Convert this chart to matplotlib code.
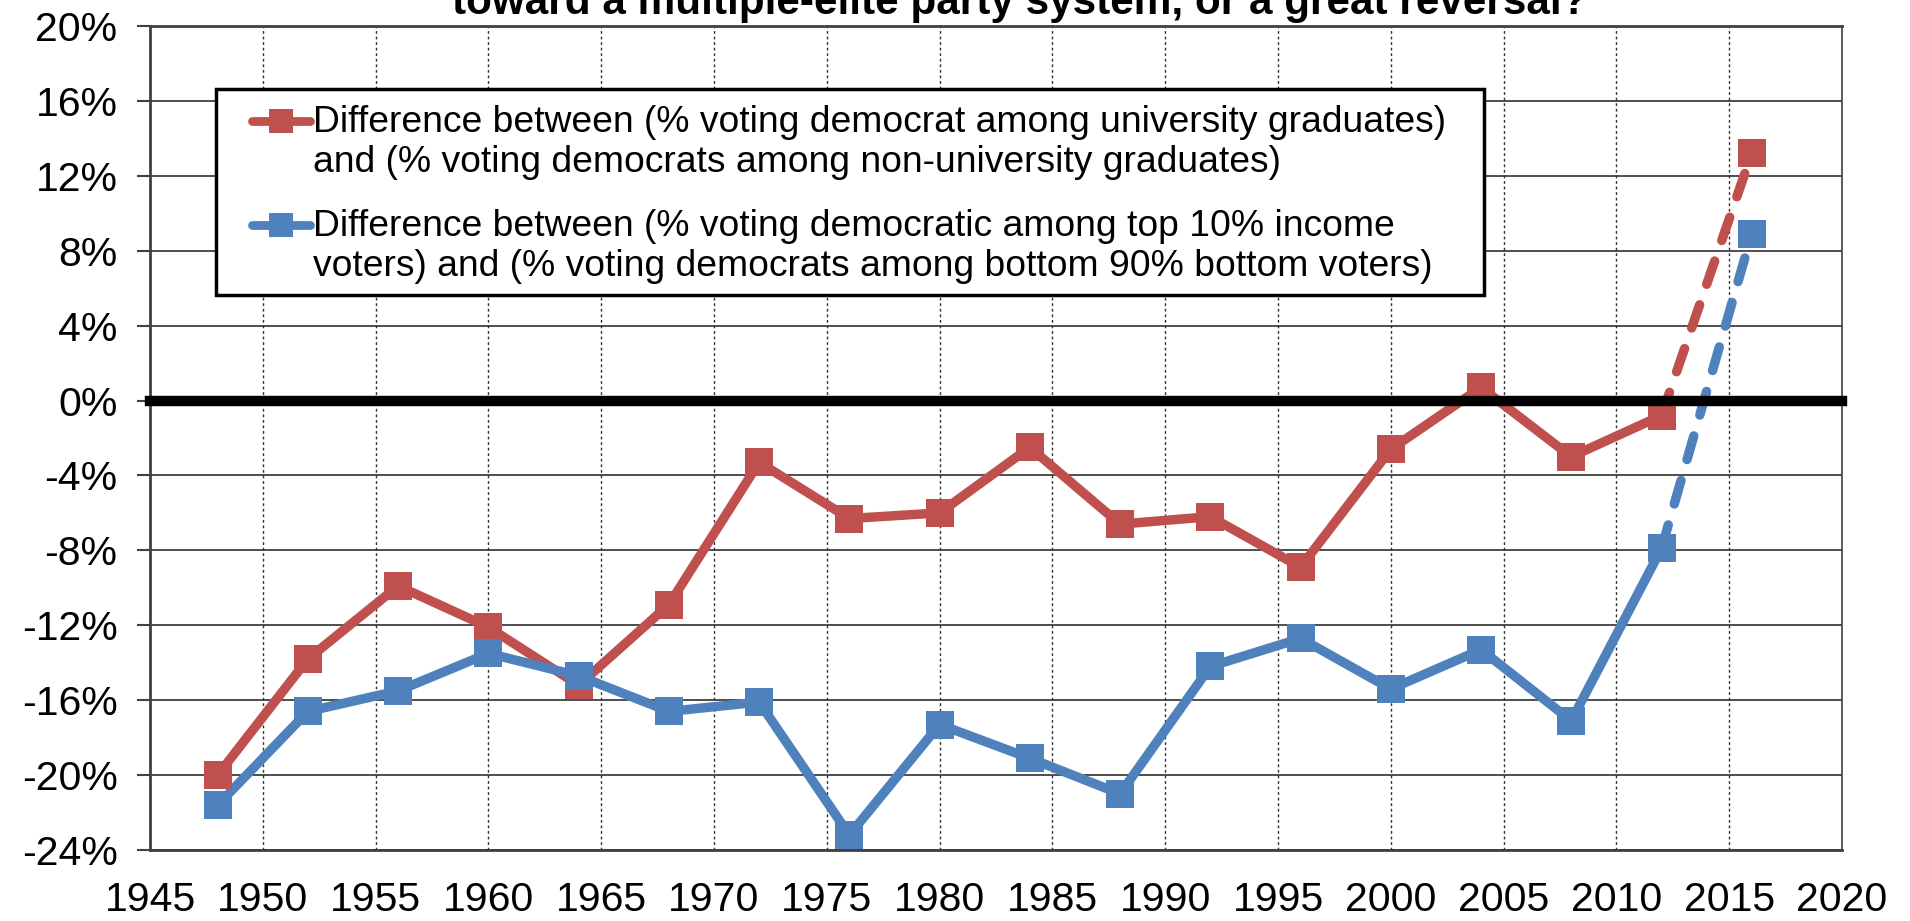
import numpy as np
import matplotlib
matplotlib.use("Agg")
import matplotlib.pyplot as plt
from matplotlib.lines import Line2D
from matplotlib.patches import Rectangle
from matplotlib.legend_handler import HandlerLine2D

plt.rcParams['font.family'] = ['Liberation Sans', 'DejaVu Sans']

# ---------------- data ----------------
years = [1948, 1952, 1956, 1960, 1964, 1968, 1972, 1976, 1980, 1984,
         1988, 1992, 1996, 2000, 2004, 2008, 2012, 2016]
educ_gap = [-20.0, -13.8, -9.9, -12.1, -15.2, -10.9, -3.3, -6.3, -6.0, -2.5,
            -6.6, -6.2, -8.9, -2.6, 0.7, -3.0, -0.8, 13.2]
income_gap = [-21.6, -16.6, -15.5, -13.5, -14.7, -16.6, -16.1, -23.2, -17.3, -19.1,
              -21.0, -14.2, -12.7, -15.4, -13.3, -17.1, -7.9, 8.9]
label_educ = ("Difference between (% voting democrat among university graduates)\n"
              "and (% voting democrats among non-university graduates)")
label_income = ("Difference between (% voting democratic among top 10% income\n"
                "voters) and (% voting democrats among bottom 90% bottom voters)")
title = "toward a multiple-elite party system, or a great reversal?"
x_ticks = list(range(1945, 2021, 5))
y_ticks = list(range(-24, 21, 4))

RED = "#C0504D"
BLUE = "#4F81BD"

W, H = 1910, 921
fig = plt.figure(figsize=(W / 100, H / 100), dpi=100)
L, R, T, B = 150, 1842, 26, 850
ax = fig.add_axes([L / W, 1 - B / H, (R - L) / W, (B - T) / H])
ax.set_xlim(1945, 2020)
ax.set_ylim(-24, 20)

# grid
for yv in y_ticks:
    ax.axhline(yv, color="#404040", lw=1.3, zorder=1)
for xv in x_ticks[1:-1]:
    ax.axvline(xv, color="#303030", lw=1.0, ls=(0, (2, 2)), zorder=1)

# series: solid part up to 2012, dashed 2012->2016
lw = 6.8
ms = 20.5
for vals, col in [(educ_gap, RED), (income_gap, BLUE)]:
    ax.plot(years[:-1], vals[:-1], color=col, lw=lw, solid_joinstyle="round",
            zorder=3)
    dl, = ax.plot(years[-2:], vals[-2:], color=col, lw=lw, zorder=3,
                  dash_capstyle="round")
    dl.set_dashes((2.6, 2.3))
    ax.plot(years, vals, ls="none", marker="s", ms=ms, color=col,
            markeredgewidth=0, zorder=4)

ax.axhline(0, color="black", lw=7.5, zorder=6, clip_on=False)

# axes styling
for s in ["left", "bottom", "top"]:
    ax.spines[s].set_color("#404040")
    ax.spines[s].set_linewidth(2.0)
ax.spines["right"].set_color("#404040")
ax.spines["right"].set_linewidth(1.2)

ax.set_yticks(y_ticks)
ax.set_yticklabels([f"{v}%" for v in y_ticks])
ax.set_xticks(x_ticks)
ax.set_xticklabels([str(v) for v in x_ticks])
ax.tick_params(axis="y", length=9.4, width=1.5, color="#404040", pad=14,
               labelsize=29.5)
ax.tick_params(axis="x", length=0, pad=22.5, labelsize=29.5)

# title (top line is clipped off like the reference)
t = fig.text(0.5, 0, title, fontsize=25, fontweight="bold", ha="left",
             va="baseline")
fig.canvas.draw()
w = t.get_window_extent().width
t.set_fontsize(25 * 1133 / w)
t.set_position((452 / W, 1 - 14 / H))


# legend
class TopHandler(HandlerLine2D):
    def create_artists(self, legend, orig_handle, xdescent, ydescent,
                       width, height, fontsize, trans):
        arts = super().create_artists(legend, orig_handle, xdescent, ydescent,
                                      width, height, fontsize, trans)
        for a in arts:
            a.set_ydata(np.asarray(a.get_ydata()) + 0.6 * fontsize)
        return arts


LFS = 26.8
h1 = Line2D([], [], color=RED, lw=6.3, marker="s", ms=17, markeredgewidth=0,
            solid_capstyle="round")
h2 = Line2D([], [], color=BLUE, lw=6.3, marker="s", ms=17, markeredgewidth=0,
            solid_capstyle="round")
box = Rectangle((216 / W, 1 - 295 / H), (1484 - 216) / W, (295 - 89) / H,
                transform=fig.transFigure, facecolor="white",
                edgecolor="black", lw=2.5, zorder=8, clip_on=False)
ax.add_patch(box)
leg = ax.legend([h1, h2], [label_educ, label_income], loc="upper left",
                bbox_to_anchor=(252 / W, 1 - 105 / H),
                bbox_transform=fig.transFigure, frameon=False, borderpad=0,
                borderaxespad=0, fontsize=LFS, handlelength=58 / (LFS * 100 / 72),
                handletextpad=0.08, labelspacing=0.76,
                handler_map={Line2D: TopHandler()})
leg.set_zorder(11)

fig.savefig("out.png", dpi=100)
